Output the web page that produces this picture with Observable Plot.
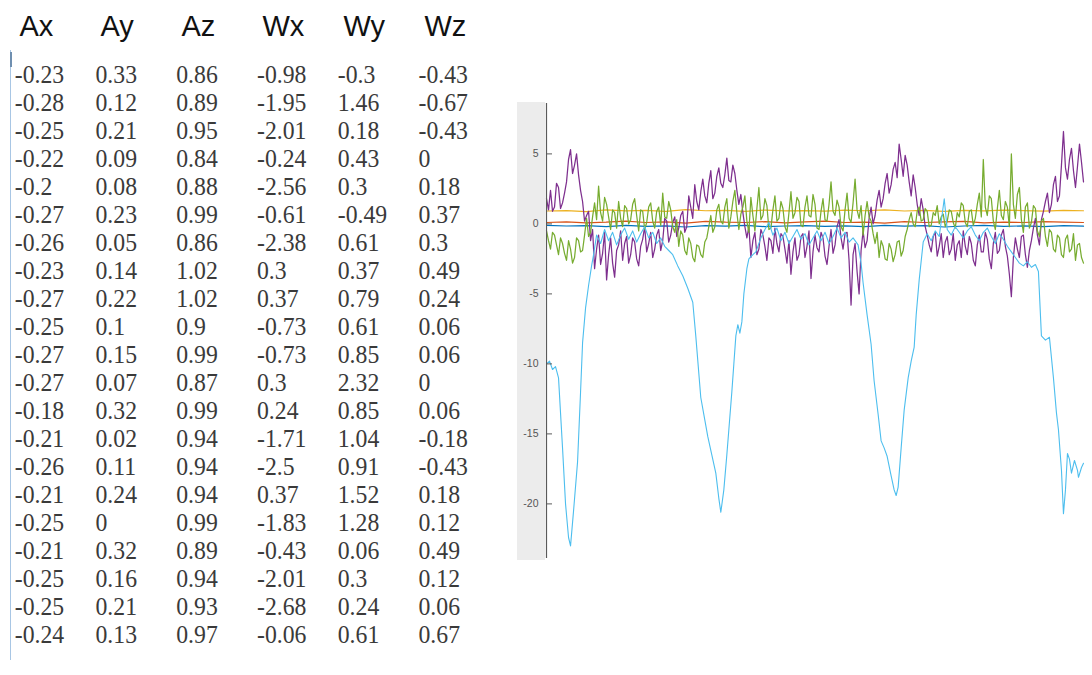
<!DOCTYPE html>
<html><head><meta charset="utf-8">
<script src="https://cdn.jsdelivr.net/npm/d3@7"></script>
<script src="https://cdn.jsdelivr.net/npm/@observablehq/plot@0.6"></script>
<style>
html,body{margin:0;padding:0;background:#fff;}
#root{position:relative;width:1092px;height:675px;overflow:hidden;background:#fff;}
#root > div{position:absolute;}
#hdr{left:0;top:0;}
#vals{left:0;top:0;transform:scaleX(0.95);transform-origin:0 0;}
#border{left:10px;top:50px;width:0;height:610px;border-left:1.5px solid #a8c6e4;}
#cursor{left:10px;top:52px;width:0;height:15px;border-left:2px solid #6f8fb0;}
#panel{left:517px;top:102px;width:28px;height:458px;background:#ececec;}
#chart{left:508px;top:90px;}
</style></head><body>
<div id="root"><div id="border"></div><div id="cursor"></div><div id="panel"></div><div id="hdr"></div><div id="vals"></div><div id="chart"></div></div>
<script>
// ---- table data ----
const cols = ["Ax","Ay","Az","Wx","Wy","Wz"];
const Ax = [-0.23,-0.28,-0.25,-0.22,-0.2,-0.27,-0.26,-0.23,-0.27,-0.25,-0.27,-0.27,-0.18,-0.21,-0.26,-0.21,-0.25,-0.21,-0.25,-0.25,-0.24];
const Ay = [0.33,0.12,0.21,0.09,0.08,0.23,0.05,0.14,0.22,0.1,0.15,0.07,0.32,0.02,0.11,0.24,0,0.32,0.16,0.21,0.13];
const Az = [0.86,0.89,0.95,0.84,0.88,0.99,0.86,1.02,1.02,0.9,0.99,0.87,0.99,0.94,0.94,0.94,0.99,0.89,0.94,0.93,0.97];
const Wx = [-0.98,-1.95,-2.01,-0.24,-2.56,-0.61,-2.38,0.3,0.37,-0.73,-0.73,0.3,0.24,-1.71,-2.5,0.37,-1.83,-0.43,-2.01,-2.68,-0.06];
const Wy = [-0.3,1.46,0.18,0.43,0.3,-0.49,0.61,0.37,0.79,0.61,0.85,2.32,0.85,1.04,0.91,1.52,1.28,0.06,0.3,0.24,0.61];
const Wz = [-0.43,-0.67,-0.43,0,0.18,0.37,0.3,0.49,0.24,0.06,0.06,0,0.06,-0.18,-0.43,0.18,0.12,0.49,0.12,0.06,0.67];

// ---- chart data ----
const yTicks = [-20,-15,-10,-5,0,5];
const sigAx = [-0.1,-0.15,-0.12,-0.2,-0.1,-0.18,-0.14,-0.22,-0.12,-0.16,-0.1,-0.2,-0.15,-0.12,-0.18,-0.14,-0.2,-0.1,-0.16,-0.12,-0.22,-0.15,-0.1,-0.18,-0.14,-0.2,-0.12,-0.16];
const sigAy = [0.1,0.15,0.08,0.12,0.2,0.1,0.14,0.06,0.18,0.12,0.1,0.16,0.08,0.14,0.2,0.1,0.12,0.06,0.16,0.1,0.14,0.18,0.08,0.12,0.1,0.16,0.12,0.1];
const sigAz = [0.92,0.95,0.88,1.0,0.93,0.97,0.9,1.02,0.94,0.96,0.89,0.99,0.93,0.95,0.91,0.98,0.94,1.0,0.92,0.96,0.9,0.97,0.93,0.99,0.95,0.91,0.96,0.94];
const sigPurple = [
 1.8,1.0, 2.4,0.9, 1.2,2.9, 2.6,1.1, 1.5,2.2, 3.0,4.6, 5.3,3.6, 4.2,5.0, 3.5,2.4, 1.6,0.2,
 0.6,0.9, -1.2,-0.4, -3.2,-1.8, -0.8,-2.9, -2.1,-0.6, -4.0,-2.2, -1.0,-2.8, -3.8,-1.9, -1.5,-0.5, -2.6,-1.4,
 -0.9,-2.8, -2.2,-1.0, -1.3,-2.5, -3.0,-1.6, -1.1,-0.2, -2.0,-1.4, -0.6,-2.4, -1.8,-0.8, -0.4,-1.9, -1.2,0.4,
 0.2,-1.3, -0.8,0.1, 0.5,-0.9, -0.3,0.6, 0.9,-0.6, -0.2,2.0, 1.2,0.4, 2.8,1.6, 1.0,2.3, 3.2,2.0,
 1.5,2.9, 3.8,1.8, 2.2,3.4, 4.0,2.9, 2.6,3.5, 4.7,3.1, 3.0,4.2, 3.6,2.4, 1.4,2.1, 0.8,-0.2,
 -1.0,-0.2, -2.4,-1.2, -0.6,-2.2, -1.8,-0.4, -0.8,-1.6, -2.6,-1.0, -1.2,-2.1, -0.3,-1.4, -2.0,-0.7, -0.9,-1.8,
 -2.8,-1.2, -3.6,-2.0, -1.0,-2.6, -2.2,-0.9, -0.7,-2.4, -1.6,-0.5, -3.9,-2.0, -0.8,-1.7, -2.0,-0.6, -1.0,-2.3,
 -2.9,-1.6, -0.4,-2.1, -1.5,-0.2, 0.3,-1.0, -1.8,-0.7, -0.6,-2.6, -5.8,-2.2, -1.4,-3.4, -5.0,-1.9, -0.5,-1.7,
 -1.2,0.4, 1.2,0.0, 0.6,1.7, 2.4,1.2, 1.8,2.9, 3.6,2.2, 2.8,3.9, 4.4,3.3, 5.7,4.6, 3.4,4.9,
 4.2,3.0, 2.0,3.5, 2.6,1.4, 0.6,1.8, 1.0,-0.2, -0.8,-1.5, -2.0,-0.9, -0.6,-2.3, -1.6,-0.7, -2.4,-1.3,
 -0.9,-2.2, -1.8,-0.7, -2.6,-1.5, -1.2,-2.4, -0.5,-1.6, -2.2,-0.9, -1.4,-2.6, -3.0,-1.5, -0.8,-2.0, -2.0,-0.6,
 -1.1,-2.5, -3.2,-1.4, -0.6,-2.1, -1.9,-0.8, -0.4,-1.6, -2.3,-3.6, -5.2,-2.4, -1.0,-1.8, -2.4,-0.9, -0.8,-2.2,
 -3.1,-1.9, -1.2,-0.3, 0.4,-0.8, -1.5,0.3, 0.9,1.6, 2.2,0.8, 1.4,2.8, 3.4,1.6, 2.0,4.2, 6.6,4.0,
 3.2,4.6, 5.4,3.8, 2.6,4.1, 5.7,4.4, 3.0];
const sigGreen = [
 -0.5,-1.2, -1.8,-0.6, -0.8,-1.5, -2.2,-1.0, -1.4,-2.1, -2.6,-1.2, -1.8,-2.8, -2.4,-1.0, -1.2,-2.0, -1.9,-0.8,
 0.4,-0.9, -0.6,0.5, 1.5,0.3, 2.7,0.8, 0.2,1.9, 1.4,0.5, -0.4,1.0, 0.8,-0.3, 1.6,0.4, -0.2,1.3,
 1.1,0.0, 0.3,1.4, 1.8,0.6, -0.5,1.0, 0.9,-0.4, 0.1,1.2, 1.5,0.2, -0.3,0.9, 1.2,-0.1, 2.2,0.5,
 0.4,1.6, 1.0,-0.2, -0.6,0.3, -1.6,-0.5, -0.8,-1.9, -2.2,-1.0, -1.4,-2.4, -2.7,-1.5, -1.6,-2.2, -2.4,-1.3,
 -1.0,-0.2, 0.6,-0.6, -0.2,1.0, 1.4,0.2, 0.0,1.2, 1.8,-0.3, 0.5,1.6, 2.4,0.8, -0.4,0.7, 1.2,2.0,
 0.2,-0.6, 1.9,0.6, -0.5,1.1, 2.6,0.3, 0.6,1.8, 1.3,-0.4, -0.3,1.0, 2.0,0.2, 0.4,1.6, 1.1,-0.2,
 -0.6,0.8, 2.3,0.4, 0.8,1.9, 1.6,-0.1, -0.2,1.2, 2.0,0.6, 0.5,2.1, 1.4,-0.3, -0.4,0.9, 1.8,0.3,
 0.2,1.4, 3.0,0.9, 0.6,1.7, 1.2,-0.2, -0.5,1.0, 2.2,0.4, 0.1,1.5, 3.2,1.0, 0.4,1.3, -0.8,0.6,
 1.6,0.5, 0.2,-0.7, -1.4,-0.6, -2.4,-1.2, -1.6,-2.5, -2.6,-1.4, -1.8,-2.7, -2.2,-1.3, -1.2,-2.3, -1.9,-0.9,
 -0.4,0.3, 0.8,0.0, -0.2,0.9, 1.2,0.2, 0.3,1.1, 0.9,-0.2, -0.1,0.8, 0.6,1.3, 0.0,0.5, 0.7,-0.2,
 0.2,1.0, 0.9,0.1, -0.3,0.8, 0.5,1.5, 1.3,0.1, -0.2,0.9, 1.0,-0.1, 0.4,1.4, 2.2,0.5, 4.6,1.2,
 0.6,2.0, 1.8,0.2, -0.4,1.1, 2.4,0.6, 0.3,1.6, 1.2,-0.2, 5.0,1.4, 0.4,2.1, 2.6,0.3, -0.6,1.2,
 1.5,-0.3, 0.1,1.3, 1.1,-0.5, -0.9,0.2, 0.4,-0.9, -1.6,-0.4, -0.6,-1.8, -2.0,-0.8, -1.0,-2.2, -2.4,-1.1,
 -0.8,-2.0, -1.8,-0.7, -2.6,-1.5, -1.4,-2.4, -2.8];
const cyanT = [0,3,6,9,12,16,19,22,24,27,31,34,36,39,42,45,47,50,54,58,62,66,70,74,78,82,86,90,94,98,102,106,110,114,118,122,126,131,136,141,146,149,154,158,161,165,169,172,174,177,180,182,185,187,189,191,193,195,197,200,202,206,209,214,218,222,226,230,234,238,242,246,250,254,258,262,266,270,274,278,282,286,290,294,298,302,306,311,314,316,320,324,327,331,334,337,340,344,347,349,351,354,357,361,364,367,369,372,376,380,384,388,392,397,400,404,408,412,416,420,424,428,432,436,440,444,448,452,456,460,464,468,472,476,480,484,488,491,494,498,502,506,509,511,514,516,518,520,522,524,527,530,531,534,536];
const cyanV = [-10.0,-9.8,-10.4,-10.2,-11.0,-16.0,-20.0,-22.4,-23.0,-20.5,
 -17.0,-12.0,-8.5,-6.0,-4.4,-3.0,-2.2,-0.8,-1.4,-0.4,
 -1.2,-0.6,-1.5,-0.8,-0.3,-1.1,-0.5,-1.3,-0.7,-0.2,
 -1.0,-0.6,-1.4,-1.0,-1.6,-1.9,-2.2,-3.0,-3.7,-4.6,
 -5.6,-8.0,-12.4,-14.0,-15.2,-16.5,-17.8,-19.6,-20.6,-19.0,
 -16.5,-14.7,-12.0,-10.0,-8.0,-7.2,-7.8,-7.0,-5.0,-3.2,
 -2.5,-2.2,-2.0,-1.0,-0.4,0.1,-0.8,-0.3,-1.2,-0.6,
 -1.4,-0.9,-0.4,-1.1,-0.7,-1.5,-1.0,-0.5,-1.2,-0.6,
 -1.4,-0.9,-0.3,-1.0,-0.6,-1.3,-1.0,-1.5,-2.8,-4.2,
 -6.5,-8.6,-11.2,-13.6,-15.5,-16.0,-16.6,-18.0,-19.0,-19.4,
 -18.8,-16.0,-13.3,-11.0,-9.8,-8.8,-6.5,-4.0,-1.3,-0.7,
 -1.2,-0.5,-0.9,1.8,-0.4,-0.8,-0.2,-0.6,-1.0,-0.5,
 -0.2,-0.8,-1.2,-0.6,-0.3,-0.9,-1.4,-0.7,-1.1,-1.6,
 -2.0,-2.4,-2.8,-3.0,-2.7,-3.1,-2.9,-3.4,-8.0,-8.3,
 -8.1,-11.0,-13.5,-14.7,-17.6,-20.7,-19.0,-16.4,-16.8,-17.8,
 -16.9,-17.6,-18.1,-17.4,-17.1];

const tMax = 536;
const yDom = [-23.9, 8.6];

// ---- table ----
const colVals = [Ax, Ay, Az, Wx, Wy, Wz];
const cells = [];
for (let r = 0; r < Ax.length; r++) cols.forEach((c, j) => cells.push({r, c, v: String(colVals[j][r])}));

const hdr = Plot.plot({
  width: 500, height: 50, marginTop: 35, marginBottom: 0, marginLeft: 0, marginRight: 0,
  style: {background: "transparent"},
  x: {type: "point", domain: cols, range: [18, 425], padding: 0, axis: null},
  marks: [Plot.text(cols, {x: d => d, frameAnchor: "top", lineAnchor: "bottom", textAnchor: "start",
    fontSize: 29, fontFamily: "Liberation Sans, Arial, sans-serif", fill: "#111"})]
});
document.getElementById("hdr").appendChild(hdr);

const vals = Plot.plot({
  width: 530, height: 675, margin: 0,
  style: {background: "transparent"},
  x: {type: "point", domain: cols, range: [12.6, 442], padding: 0, axis: null},
  y: {type: "point", domain: d3.range(Ax.length), range: [66, 641], padding: 0, axis: null},
  marks: [Plot.text(cells, {x: "c", y: "r", text: "v", lineAnchor: "middle", textAnchor: "start",
    fontSize: 25, fontFamily: "Liberation Serif, Times New Roman, serif", fill: "#3a3a3a"})]
});
document.getElementById("vals").appendChild(vals);

// ---- chart ----
const even = (arr) => arr.map((v, i) => ({t: i * tMax / (arr.length - 1), v}));
const cyan = cyanT.map((t, i) => ({t, v: cyanV[i]}));
const line = (data, stroke, w) => Plot.line(data, {x: "t", y: "v", stroke, strokeWidth: w});

const chart = Plot.plot({
  width: 584, height: 480, marginLeft: 38, marginRight: 9, marginTop: 13, marginBottom: 12,
  style: {background: "transparent", overflow: "visible", fontFamily: "Liberation Sans, Arial, sans-serif", fontSize: "10.5px"},
  x: {domain: [0, tMax], axis: null},
  y: {domain: yDom, axis: null},
  marks: [
    line(even(sigAx), "#0072bd", 1.2),
    line(even(sigAy), "#d95319", 1.2),
    line(even(sigAz), "#edb120", 1.2),
    line(even(sigPurple), "#7e2f8e", 1.25),
    line(even(sigGreen), "#77ac30", 1.25),
    line(cyan, "#4dbeee", 1.1),
    Plot.ruleX([0], {y1: yDom[0], y2: yDom[1], stroke: "#5a5a5a", strokeWidth: 1.2}),
    Plot.ruleY(yTicks, {x1: 0, x2: 6, stroke: "#5a5a5a"}),
    Plot.axisY({ticks: yTicks, tickSize: 0, tickPadding: 8, tickFormat: d => String(d), fill: "#555", label: null})
  ]
});
document.getElementById("chart").appendChild(chart);
</script>
</body></html>
